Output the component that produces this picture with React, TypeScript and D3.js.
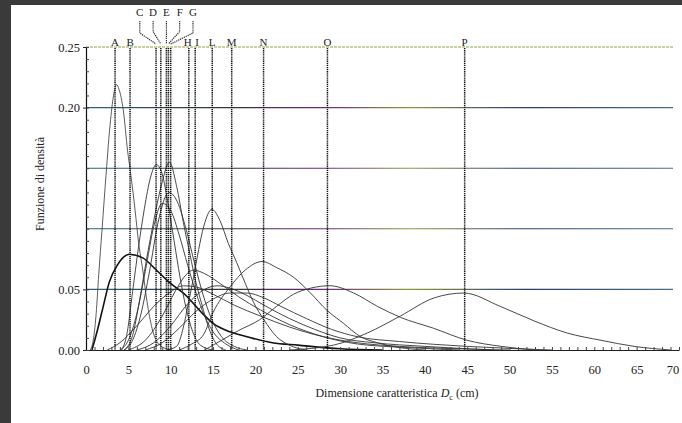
import React, { useEffect, useRef } from "react";
import * as d3 from "d3";

// density curves: [diameter cm, density]
const curveA = [[0.5,0],[0.9,0.01],[1.2,0.03],[1.5,0.062],[1.9,0.1],[2.36,0.144],[2.9,0.19],[3.3,0.212],[3.6,0.219],[3.9,0.215],[4.4,0.198],[4.9,0.165],[5.3,0.144],[5.8,0.115],[6.2,0.089],[6.7,0.066],[7.2,0.04],[7.8,0.018],[8.7,0.004],[10,0]];
const curveB = [[0.7,0],[1.3,0.015],[2.0,0.035],[2.75,0.056],[3.7,0.07],[5.1,0.079],[6.7,0.076],[8.3,0.066],[9.8,0.056],[11.8,0.045],[13.5,0.032],[15,0.022],[17,0.015],[19,0.011],[22,0.006],[25,0.004],[30,0.001],[35,0]];
const curveC = [[4.2,0],[4.8,0.012],[5.5,0.048],[6.2,0.085],[6.9,0.117],[7.6,0.142],[8.3,0.153],[9.0,0.145],[9.7,0.12],[10.4,0.09],[11.1,0.06],[11.8,0.035],[12.6,0.015],[13.5,0.004],[15,0]];
const curveD = [[4,0],[5,0.008],[6,0.03],[7,0.065],[8,0.102],[9,0.121],[10,0.115],[11,0.095],[12,0.07],[13,0.047],[14,0.028],[15,0.015],[16.5,0.005],[18,0]];
const curveE = [[4.5,0],[5.5,0.012],[6.3,0.04],[7.1,0.073],[7.9,0.103],[8.9,0.136],[9.85,0.155],[10.7,0.135],[11.5,0.105],[12.3,0.078],[12.9,0.058],[13.7,0.037],[14.4,0.02],[15.4,0.005],[16.5,0]];
const curveF = [[4.5,0],[5.5,0.008],[6.5,0.03],[7.5,0.065],[8.5,0.105],[9.8,0.13],[10.8,0.122],[11.8,0.1],[12.8,0.072],[13.8,0.046],[14.8,0.026],[16,0.011],[17.5,0.003],[19,0]];
const curveG = [[2.5,0],[4,0.006],[6,0.02],[8,0.036],[10,0.048],[11.5,0.053],[13,0.052],[15,0.046],[17.5,0.037],[20.6,0.028],[24,0.019],[28,0.011],[32,0.006],[37,0.003],[44,0.001],[50,0]];
const curveH = [[5,0],[7,0.008],[9,0.028],[10.5,0.048],[11.8,0.062],[12.7,0.066],[14,0.063],[15.8,0.055],[18,0.044],[20.6,0.033],[24,0.021],[28,0.011],[32,0.005],[38,0.002],[44,0]];
const curveI = [[6,0],[8,0.006],[10,0.02],[12,0.038],[14,0.05],[15.5,0.053],[17,0.051],[19,0.045],[21,0.037],[24,0.026],[27,0.017],[30,0.01],[34,0.006],[40,0.003],[48,0]];
const curveL = [[9.5,0],[10.7,0.003],[11.5,0.019],[12.1,0.039],[12.7,0.06],[13.3,0.083],[13.9,0.102],[14.86,0.116],[15.8,0.107],[16.8,0.088],[17.8,0.072],[18.8,0.055],[19.8,0.039],[21,0.025],[22.5,0.011],[24,0.004],[26,0]];
const curveM = [[7,0],[9,0.006],[11,0.018],[13,0.032],[15,0.042],[17,0.047],[19,0.047],[21,0.043],[23,0.036],[26,0.026],[29,0.017],[32,0.011],[37,0.007],[45,0.003],[55,0]];
const curveN = [[11,0],[12.5,0.005],[13.9,0.013],[15,0.031],[17,0.052],[18.8,0.066],[20.8,0.073],[22.5,0.068],[24.5,0.06],[26.5,0.047],[28.4,0.033],[30.4,0.022],[32.4,0.011],[34.4,0.006],[37,0.002],[40,0]];
const curveO = [[14,0],[16,0.008],[18,0.016],[20.5,0.025],[22.5,0.036],[24.5,0.046],[26.5,0.051],[28.8,0.053],[31.6,0.047],[34.4,0.036],[37.1,0.027],[41,0.018],[45,0.008],[49,0.003],[53,0]];
const curveP = [[24,0],[29.2,0.004],[33.2,0.014],[37.1,0.028],[41.1,0.043],[44.6,0.047],[48.9,0.036],[52.9,0.024],[56.8,0.014],[60.8,0.008],[64.7,0.003],[69,0]];

const curves = [curveA, curveB, curveC, curveD, curveE, curveF, curveG, curveH, curveI, curveL, curveM, curveN, curveO, curveP];

const markerLabels = ["A", "B", "C", "D", "E", "F", "G", "H", "I", "L", "M", "N", "O", "P"];
const markerValues = [3.43, 5.2, 8.27, 8.83, 9.49, 9.73, 10.0, 12.14, 12.89, 14.9, 17.2, 20.96, 28.5, 44.7];
const topLabels = ["C", "D", "E", "F", "G"];

const xTicks = [0, 5, 10, 15, 20, 25, 30, 35, 40, 45, 50, 55, 60, 65, 70];
const yTickLabels = [0, 0.05, 0.2, 0.25];
const gridValues = [0.05, 0.1, 0.15, 0.2, 0.25];

const serif = "'Liberation Serif', 'Times New Roman', serif";

export default function App() {
  const ref = useRef<SVGSVGElement>(null);

  useEffect(() => {
    const svg = d3.select(ref.current);
    svg.selectAll("*").remove();

    const x = d3.scaleLinear().domain([0, 70]).range([86, 679]);
    const y = d3.scaleLinear().domain([0, 0.25]).range([350, 47]);
    const gridEnd = x.range()[1] - 6;

    // scan borders
    svg.append("rect").attr("x", 0).attr("y", 0).attr("width", 682).attr("height", 423).attr("fill", "#fff");
    svg.append("rect").attr("x", 0).attr("y", 0).attr("width", 682).attr("height", 5).attr("fill", "#3a3a3a");
    svg.append("rect").attr("x", 0).attr("y", 0).attr("width", 11).attr("height", 423).attr("fill", "#3a3a3a");

    // gridlines with scanner colour fringes
    const defs = svg.append("defs");
    const grad = defs.append("linearGradient")
      .attr("id", "gridFringe")
      .attr("gradientUnits", "userSpaceOnUse")
      .attr("x1", x(0)).attr("x2", gridEnd).attr("y1", 0).attr("y2", 0);
    [["0", "#2f6272"], ["0.25", "#333333"], ["0.4", "#6a2a78"], ["0.55", "#8c9a3c"], ["0.75", "#2d3c70"], ["1", "#4a7080"]]
      .forEach(([o, c]) => grad.append("stop").attr("offset", o).attr("stop-color", c));

    svg.append("g")
      .selectAll("line")
      .data(gridValues)
      .join("line")
      .attr("x1", x(0))
      .attr("x2", gridEnd)
      .attr("y1", d => y(d))
      .attr("y2", d => y(d))
      .attr("stroke", d => (d === 0.25 ? "#8f9f50" : "url(#gridFringe)"))
      .attr("stroke-dasharray", d => (d === 0.25 ? "3,1" : null))
      .attr("stroke-width", 1.1);

    // curves
    const line = d3.line<number[]>()
      .x(d => x(d[0]))
      .y(d => y(d[1]))
      .curve(d3.curveMonotoneX);

    svg.append("g")
      .selectAll("path")
      .data(curves)
      .join("path")
      .attr("d", d => line(d))
      .attr("fill", "none")
      .attr("stroke", (d, i) => (i === 0 ? "#4a4a4a" : i === 1 ? "#111" : "#333"))
      .attr("stroke-width", (d, i) => (i === 1 ? 1.6 : 0.9));

    // dashed marker lines
    svg.append("g")
      .selectAll("line")
      .data(markerValues)
      .join("line")
      .attr("x1", d => x(d))
      .attr("x2", d => x(d))
      .attr("y1", 48)
      .attr("y2", y(0))
      .attr("stroke", "#111")
      .attr("stroke-width", 1.5)
      .attr("stroke-dasharray", "1.3,0.8");

    // marker letters
    const labels = svg.append("g")
      .attr("font-family", serif)
      .attr("font-size", 11)
      .attr("fill", "#222")
      .attr("text-anchor", "middle");

    const xE = x(markerValues[markerLabels.indexOf("E")]);
    markerLabels.forEach((lab, i) => {
      const lx = x(markerValues[i]);
      const ti = topLabels.indexOf(lab);
      if (ti >= 0) {
        const tx = xE + (ti - 2) * 13.3;
        labels.append("text").attr("x", tx).attr("y", 16).text(lab);
        labels.append("path")
          .attr("d", `M${tx},21 L${tx},${30 + Math.abs(ti - 2) * 1.5} L${lx},44`)
          .attr("fill", "none")
          .attr("stroke", "#222")
          .attr("stroke-width", 1.1)
          .attr("stroke-dasharray", "1.3,0.8");
      } else {
        const shift = lab === "H" ? -1 : lab === "I" ? 2 : 0;
        labels.append("text").attr("x", lx + shift).attr("y", 46).text(lab);
      }
    });

    // axes
    const xAxis = svg.append("g").attr("transform", `translate(0,${y(0)})`);
    xAxis.call(d3.axisBottom(x).tickValues(d3.range(0, 71, 1)).tickSizeInner(-3).tickSizeOuter(0).tickFormat(() => ""));
    xAxis.select(".domain").attr("stroke", "#222");
    xAxis.selectAll(".tick line").attr("stroke", "#444");

    const xLab = svg.append("g").attr("transform", `translate(0,${y(0)})`);
    xLab.call(d3.axisBottom(x).tickValues(xTicks).tickSize(0).tickPadding(15).tickFormat(d3.format("d")));
    xLab.select(".domain").remove();
    xLab.selectAll("text").attr("font-family", serif).attr("font-size", 12.5).attr("fill", "#222");
    // last label sits against the page edge in the scan
    xLab.selectAll<SVGGElement, number>(".tick").filter(d => d === 70).attr("transform", `translate(${x.range()[1] - 6},0)`);

    const yAxis = svg.append("g").attr("transform", `translate(${x(0)},0)`);
    yAxis.call(d3.axisRight(y).tickValues(d3.range(0, 0.2501, 0.01)).tickSizeInner(3).tickSizeOuter(0).tickFormat(() => ""));
    yAxis.select(".domain").attr("stroke", "#111").attr("stroke-width", 1.2);
    yAxis.selectAll(".tick line").attr("stroke", "#444");

    const yLab = svg.append("g").attr("transform", `translate(${x(0)},0)`);
    yLab.call(d3.axisLeft(y).tickValues(yTickLabels).tickSizeInner(3).tickSizeOuter(0).tickPadding(3).tickFormat(d3.format(".2f")));
    yLab.select(".domain").remove();
    yLab.selectAll(".tick line").attr("stroke", "#222");
    yLab.selectAll("text").attr("font-family", serif).attr("font-size", 12.5).attr("fill", "#222");

    // axis titles
    svg.append("text")
      .attr("transform", `translate(44,${184}) rotate(-90)`)
      .attr("text-anchor", "middle")
      .attr("font-family", serif)
      .attr("font-size", 12)
      .attr("fill", "#222")
      .text("Funzione di densità");

    const xt = svg.append("text")
      .attr("x", 397)
      .attr("y", 397)
      .attr("text-anchor", "middle")
      .attr("font-family", serif)
      .attr("font-size", 12)
      .attr("fill", "#222");
    xt.append("tspan").text("Dimensione caratteristica ");
    xt.append("tspan").attr("font-style", "italic").text("D");
    xt.append("tspan").attr("font-size", 8).attr("dy", 3).text("c");
    xt.append("tspan").attr("dy", -3).text(" (cm)");
  }, []);

  return (
    <div style={{ position: "absolute", left: 0, top: 0 }}>
      <svg ref={ref} width={682} height={423} style={{ display: "block" }} />
    </div>
  );
}
